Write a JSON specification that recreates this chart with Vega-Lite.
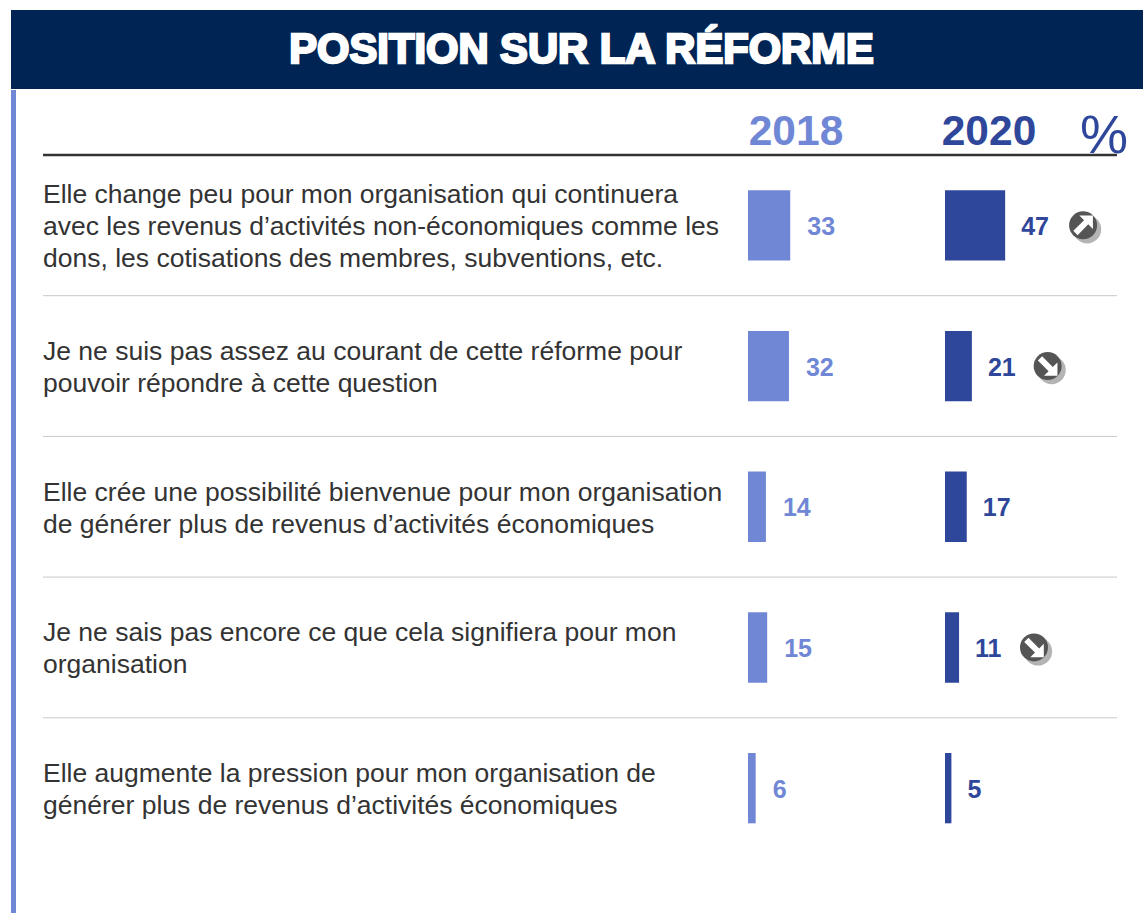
{
"$schema":"https://vega.github.io/schema/vega-lite/v6.json",
"padding":{"left":10,"top":10,"right":0,"bottom":0},
"background":"white",
"spacing":0,
"config":{"view":{"stroke":null},"concat":{"spacing":0},"font":"Liberation Sans"},
"datasets":{
"rows":[
{"question":"Elle change peu pour mon organisation qui continuera\navec les revenus d’activités non-économiques comme les\ndons, les cotisations des membres, subventions, etc.","key":"q1","lines":3,"year":"2018","value":33},
{"question":"Elle change peu pour mon organisation qui continuera\navec les revenus d’activités non-économiques comme les\ndons, les cotisations des membres, subventions, etc.","key":"q1","lines":3,"year":"2020","value":47,"trend":"up"},
{"question":"Je ne suis pas assez au courant de cette réforme pour\npouvoir répondre à cette question","key":"q2","lines":2,"year":"2018","value":32},
{"question":"Je ne suis pas assez au courant de cette réforme pour\npouvoir répondre à cette question","key":"q2","lines":2,"year":"2020","value":21,"trend":"down"},
{"question":"Elle crée une possibilité bienvenue pour mon organisation\nde générer plus de revenus d’activités économiques","key":"q3","lines":2,"year":"2018","value":14},
{"question":"Elle crée une possibilité bienvenue pour mon organisation\nde générer plus de revenus d’activités économiques","key":"q3","lines":2,"year":"2020","value":17},
{"question":"Je ne sais pas encore ce que cela signifiera pour mon\norganisation","key":"q4","lines":2,"year":"2018","value":15},
{"question":"Je ne sais pas encore ce que cela signifiera pour mon\norganisation","key":"q4","lines":2,"year":"2020","value":11,"trend":"down"},
{"question":"Elle augmente la pression pour mon organisation de\ngénérer plus de revenus d’activités économiques","key":"q5","lines":2,"year":"2018","value":6},
{"question":"Elle augmente la pression pour mon organisation de\ngénérer plus de revenus d’activités économiques","key":"q5","lines":2,"year":"2020","value":5}
],
"banner":[{"title":"POSITION SUR LA RÉFORME"}],
"years":[{"year":"2018"},{"year":"2020"}],
"unit":[{"unit":"%"}]
},
"vconcat":[
{"width":1133,"height":79,"view":{"fill":"#002554","stroke":null},"data":{"name":"banner"},
 "mark":{"type":"text","font":"Liberation Sans","fontWeight":"bold","fontSize":41.7,"color":"white","stroke":"white","strokeWidth":2.4,"dx":4,"dy":0},
 "encoding":{"text":{"field":"title"}}},
{"hconcat":[
 {"width":5,"height":824,"view":{"fill":"#7087D6","stroke":null},"data":{"name":"banner"},"mark":{"type":"rule","opacity":0},"encoding":{}},
 {"width":1128,"height":824,"data":{"name":"rows"},
  "resolve":{"scale":{"x":"independent","y":"independent"},"axis":{"x":"independent","y":"independent"}},
  "layer":[
   {"transform":[{"filter":"datum.year==='2018' && datum.lines===3"}],
    "mark":{"type":"text","align":"left","baseline":"middle","lineBreak":"\n","lineHeight":32,"fontSize":26.5,"font":"Liberation Sans","color":"#333333","dy":-30},
    "encoding":{
     "y":{"field":"key","type":"nominal","axis":null,"scale":{"type":"band","domain":["q1","q2","q3","q4","q5"],"range":[65,768.5],"paddingInner":0.5,"paddingOuter":0.25}},
     "x":{"datum":0,"type":"quantitative","axis":null,"scale":{"domain":[0,1],"range":[27,1101]}},
     "text":{"field":"question"}}},
   {"transform":[{"filter":"datum.year==='2018' && datum.lines===2"}],
    "mark":{"type":"text","align":"left","baseline":"middle","lineBreak":"\n","lineHeight":32,"fontSize":26.5,"font":"Liberation Sans","color":"#333333","dy":-14},
    "encoding":{
     "y":{"field":"key","type":"nominal","axis":null,"scale":{"type":"band","domain":["q1","q2","q3","q4","q5"],"range":[65,768.5],"paddingInner":0.5,"paddingOuter":0.25}},
     "x":{"datum":0,"type":"quantitative","axis":null,"scale":{"domain":[0,1],"range":[27,1101]}},
     "text":{"field":"question"}}},
   {"transform":[{"filter":"datum.year==='2018'"}],
    "mark":{"type":"bar"},
    "encoding":{
     "y":{"field":"key","type":"nominal","axis":null,"scale":{"type":"band","domain":["q1","q2","q3","q4","q5"],"range":[65,768.5],"paddingInner":0.5,"paddingOuter":0.25}},
     "x":{"field":"value","type":"quantitative","axis":null,"scale":{"domain":[0,50],"range":[732,796]}},
     "color":{"field":"year","type":"nominal","legend":null,"scale":{"domain":["2018","2020"],"range":["#7087D6","#2F479B"]}}}},
   {"transform":[{"filter":"datum.year==='2018'"}],
    "mark":{"type":"text","align":"left","baseline":"middle","dx":17,"dy":1.5,"fontWeight":"bold","fontSize":25,"font":"Liberation Sans"},
    "encoding":{
     "y":{"field":"key","type":"nominal","axis":null,"scale":{"type":"band","domain":["q1","q2","q3","q4","q5"],"range":[65,768.5],"paddingInner":0.5,"paddingOuter":0.25}},
     "x":{"field":"value","type":"quantitative","axis":null,"scale":{"domain":[0,50],"range":[732,796]}},
     "text":{"field":"value"},
     "color":{"field":"year","type":"nominal","legend":null,"scale":{"domain":["2018","2020"],"range":["#7087D6","#2F479B"]}}}},
   {"transform":[{"filter":"datum.year==='2020'"}],
    "mark":{"type":"bar"},
    "encoding":{
     "y":{"field":"key","type":"nominal","axis":null,"scale":{"type":"band","domain":["q1","q2","q3","q4","q5"],"range":[65,768.5],"paddingInner":0.5,"paddingOuter":0.25}},
     "x":{"field":"value","type":"quantitative","axis":null,"scale":{"domain":[0,50],"range":[929,993]}},
     "color":{"field":"year","type":"nominal","legend":null,"scale":{"domain":["2018","2020"],"range":["#7087D6","#2F479B"]}}}},
   {"transform":[{"filter":"datum.year==='2020'"}],
    "mark":{"type":"text","align":"left","baseline":"middle","dx":16,"dy":1.5,"fontWeight":"bold","fontSize":25,"font":"Liberation Sans"},
    "encoding":{
     "y":{"field":"key","type":"nominal","axis":null,"scale":{"type":"band","domain":["q1","q2","q3","q4","q5"],"range":[65,768.5],"paddingInner":0.5,"paddingOuter":0.25}},
     "x":{"field":"value","type":"quantitative","axis":null,"scale":{"domain":[0,50],"range":[929,993]}},
     "text":{"field":"value"},
     "color":{"field":"year","type":"nominal","legend":null,"scale":{"domain":["2018","2020"],"range":["#7087D6","#2F479B"]}}}},
   {"transform":[{"filter":"datum.trend"}],
    "mark":{"type":"point","filled":true,"shape":"circle","size":800,"opacity":1,"color":"#B4B4B4","xOffset":78,"yOffset":4},
    "encoding":{
     "y":{"field":"key","type":"nominal","axis":null,"scale":{"type":"band","domain":["q1","q2","q3","q4","q5"],"range":[65,768.5],"paddingInner":0.5,"paddingOuter":0.25}},
     "x":{"field":"value","type":"quantitative","axis":null,"scale":{"domain":[0,50],"range":[929,997.2]}}}},
   {"transform":[{"filter":"datum.trend"}],
    "mark":{"type":"point","filled":true,"shape":"circle","size":784,"opacity":1,"color":"#555555","xOffset":74,"yOffset":0},
    "encoding":{
     "y":{"field":"key","type":"nominal","axis":null,"scale":{"type":"band","domain":["q1","q2","q3","q4","q5"],"range":[65,768.5],"paddingInner":0.5,"paddingOuter":0.25}},
     "x":{"field":"value","type":"quantitative","axis":null,"scale":{"domain":[0,50],"range":[929,997.2]}}}},
   {"transform":[{"filter":"datum.trend"}],
    "mark":{"type":"point","filled":true,"size":600,"opacity":1,"color":"white","xOffset":74,"yOffset":0},
    "encoding":{
     "y":{"field":"key","type":"nominal","axis":null,"scale":{"type":"band","domain":["q1","q2","q3","q4","q5"],"range":[65,768.5],"paddingInner":0.5,"paddingOuter":0.25}},
     "x":{"field":"value","type":"quantitative","axis":null,"scale":{"domain":[0,50],"range":[929,997.2]}},
     "shape":{"field":"trend","type":"nominal","legend":null,"scale":{"domain":["up","down"],"range":["M0.8,-0.8L0.8,0.3L0.42,-0.08L-0.45,0.8L-0.8,0.45L0.08,-0.42L-0.3,-0.8Z","M0.8,0.8L0.8,-0.3L0.42,0.08L-0.45,-0.8L-0.8,-0.45L0.08,0.42L-0.3,0.8Z"]}}}},
   {"transform":[{"filter":"datum.year==='2018' && datum.key!=='q5'"}],
    "mark":{"type":"rule","color":"#C8C8C8","strokeWidth":1,"yOffset":70.35},
    "encoding":{
     "y":{"field":"key","type":"nominal","axis":null,"scale":{"type":"band","domain":["q1","q2","q3","q4","q5"],"range":[65,768.5],"paddingInner":0.5,"paddingOuter":0.25}},
     "x":{"datum":0,"type":"quantitative","axis":null,"scale":{"domain":[0,1],"range":[27,1101]}},
     "x2":{"datum":1}}},
   {"data":{"name":"banner"},
    "mark":{"type":"rule","color":"#333333","strokeWidth":2.5},
    "encoding":{
     "y":{"datum":0,"type":"quantitative","axis":null,"scale":{"domain":[0,1],"range":[65,0]}},
     "x":{"datum":0,"type":"quantitative","axis":null,"scale":{"domain":[0,1],"range":[27,1101]}},
     "x2":{"datum":1}}},
   {"data":{"name":"years"},
    "mark":{"type":"text","align":"center","baseline":"middle","fontWeight":"bold","fontSize":42.5,"font":"Liberation Sans"},
    "encoding":{
     "y":{"datum":0.35,"type":"quantitative","axis":null,"scale":{"domain":[0,1],"range":[65,0]}},
     "x":{"field":"year","type":"quantitative","axis":null,"scale":{"domain":[2018,2020],"range":[780,973],"zero":false}},
     "text":{"field":"year"},
     "color":{"field":"year","type":"nominal","legend":null,"scale":{"domain":["2018","2020"],"range":["#7087D6","#2F479B"]}}}},
   {"data":{"name":"unit"},
    "mark":{"type":"text","align":"center","baseline":"middle","fontSize":54,"font":"Liberation Sans","color":"#2F479B"},
    "encoding":{
     "y":{"datum":0.28,"type":"quantitative","axis":null,"scale":{"domain":[0,1],"range":[65,0]}},
     "x":{"datum":1,"type":"quantitative","axis":null,"scale":{"domain":[0,1],"range":[0,1088]}},
     "text":{"field":"unit"}}}
  ]}
 ]}
]}
